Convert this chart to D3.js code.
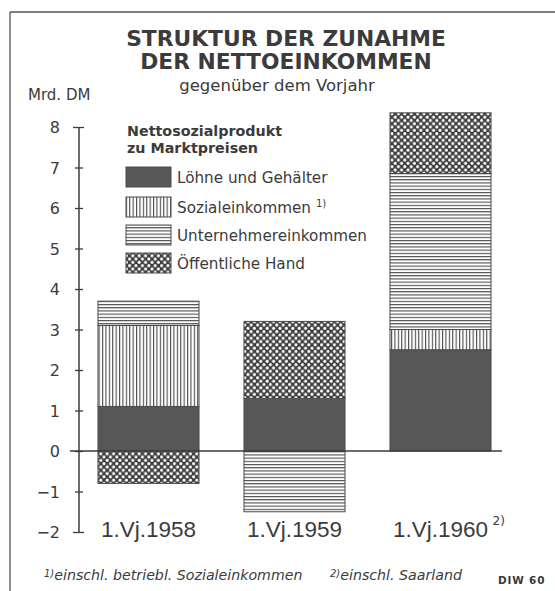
<!DOCTYPE html>
<html>
<head>
<meta charset="utf-8">
<script src="https://cdn.jsdelivr.net/npm/d3@7"></script>
<style>
  html, body { margin: 0; padding: 0; background: #fff; }
  svg { display: block; }
</style>
</head>
<body>
<div id="chart"></div>
<script>
// ---- data ----
const categories = ["1.Vj.1958", "1.Vj.1959", "1.Vj.1960"];
const categorySuperscripts = ["", "", "2)"];
const loehne = [1.1, 1.3, 2.5];          // Löhne und Gehälter
const sozial = [2.0, 0.0, 0.5];          // Sozialeinkommen 1)
const unternehmer = [0.6, -1.5, 3.85];   // Unternehmereinkommen
const oeffentlich = [-0.8, 1.9, 1.5];    // Öffentliche Hand
const seriesKeys = ["loehne", "sozial", "unternehmer", "oeffentlich"];
const seriesLabels = ["Löhne und Gehälter", "Sozialeinkommen", "Unternehmereinkommen", "Öffentliche Hand"];
const seriesLabelSup = ["", "1)", "", ""];
const yTicks = [-2, -1, 0, 1, 2, 3, 4, 5, 6, 7, 8];

const W = 555, H = 591;
const ink = "#3b3b3b";

const table = categories.map((c, i) => ({
  cat: c,
  loehne: loehne[i], sozial: sozial[i], unternehmer: unternehmer[i], oeffentlich: oeffentlich[i]
}));

const svg = d3.select("#chart").append("svg").attr("width", W).attr("height", H);

// ---- patterns ----
const defs = svg.append("defs");
const pv = defs.append("pattern").attr("id", "p-sozial").attr("patternUnits", "userSpaceOnUse")
  .attr("width", 3.4).attr("height", 10);
pv.append("rect").attr("width", 3.4).attr("height", 10).attr("fill", "#fff");
pv.append("rect").attr("x", 0).attr("width", 1.1).attr("height", 10).attr("fill", "#4a4a4a");

const ph = defs.append("pattern").attr("id", "p-unternehmer").attr("patternUnits", "userSpaceOnUse")
  .attr("width", 10).attr("height", 3.2);
ph.append("rect").attr("width", 10).attr("height", 3.2).attr("fill", "#fff");
ph.append("rect").attr("y", 0).attr("width", 10).attr("height", 1.1).attr("fill", "#4a4a4a");

const pd = defs.append("pattern").attr("id", "p-oeffentlich").attr("patternUnits", "userSpaceOnUse")
  .attr("width", 6.4).attr("height", 6.6);
pd.append("rect").attr("width", 6.4).attr("height", 6.6).attr("fill", "#3e3e3e");
pd.append("circle").attr("cx", 1.6).attr("cy", 1.65).attr("r", 1.55).attr("fill", "#fff");
pd.append("circle").attr("cx", 4.8).attr("cy", 4.95).attr("r", 1.55).attr("fill", "#fff");

const fills = {
  loehne: "#575757",
  sozial: "url(#p-sozial)",
  unternehmer: "url(#p-unternehmer)",
  oeffentlich: "url(#p-oeffentlich)"
};

// ---- frame ----
svg.append("line").attr("x1", 10).attr("x2", W).attr("y1", 12).attr("y2", 12)
  .attr("stroke", "#555").attr("stroke-width", 1.3);
svg.append("line").attr("x1", 10).attr("x2", 10).attr("y1", 12).attr("y2", H)
  .attr("stroke", "#555").attr("stroke-width", 1.3);

// ---- titles ----
svg.append("text").attr("x", 286).attr("y", 46).attr("text-anchor", "middle")
  .attr("font-family", "DejaVu Sans").attr("font-weight", "bold").attr("font-size", 21.8)
  .attr("fill", ink).text("STRUKTUR DER ZUNAHME");
svg.append("text").attr("x", 286).attr("y", 69).attr("text-anchor", "middle")
  .attr("font-family", "DejaVu Sans").attr("font-weight", "bold").attr("font-size", 21.8)
  .attr("fill", ink).text("DER NETTOEINKOMMEN");
svg.append("text").attr("x", 277).attr("y", 91).attr("text-anchor", "middle")
  .attr("font-family", "DejaVu Sans").attr("font-size", 16.5)
  .attr("fill", ink).text("gegenüber dem Vorjahr");
svg.append("text").attr("x", 28).attr("y", 100)
  .attr("font-family", "DejaVu Sans").attr("font-size", 15)
  .attr("fill", ink).text("Mrd. DM");

// ---- scales ----
const y = d3.scaleLinear().domain([-2, 8]).range([532, 127]);
const x = d3.scaleBand().domain(categories).range([75.5, 513.5])
  .paddingInner(0.308).paddingOuter(0.154);

// ---- axis ----
const axisX = 79;
const axis = d3.axisLeft(y).tickValues(yTicks).tickSize(0).tickPadding(0)
  .tickFormat(d => d < 0 ? "\u2212" + Math.abs(d) : String(d));
const gAxis = svg.append("g").attr("transform", `translate(${axisX},0)`).call(axis);
gAxis.select(".domain").remove();
gAxis.selectAll(".tick line")
  .attr("x1", d => (d === 8 || d === -2) ? -6 : -4)
  .attr("x2", d => (d === 8 || d === -2) ? 5 : 4)
  .attr("stroke", ink).attr("stroke-width", 1.3);
gAxis.selectAll(".tick text")
  .attr("x", -19).attr("dy", "0.36em")
  .attr("font-family", "DejaVu Sans").attr("font-size", 16)
  .attr("fill", ink).attr("text-anchor", "end");
svg.append("line").attr("x1", axisX).attr("x2", axisX).attr("y1", y(8)).attr("y2", y(-2))
  .attr("stroke", ink).attr("stroke-width", 1.5);

// ---- stacked bars ----
const stack = d3.stack().keys(seriesKeys).offset(d3.stackOffsetDiverging);
const stacked = stack(table);

const gBars = svg.append("g");
stacked.forEach(layer => {
  gBars.selectAll(null)
    .data(layer.filter(d => d[1] !== d[0]))
    .join("rect")
    .attr("x", d => x(d.data.cat))
    .attr("width", x.bandwidth())
    .attr("y", d => y(Math.max(d[0], d[1])))
    .attr("height", d => Math.abs(y(d[0]) - y(d[1])))
    .attr("fill", fills[layer.key])
    .attr("stroke", "#4a4a4a").attr("stroke-width", 1);
});

// ---- zero line ----
svg.append("line").attr("x1", 70).attr("x2", 502).attr("y1", y(0)).attr("y2", y(0))
  .attr("stroke", ink).attr("stroke-width", 1.3);

// ---- category labels ----
const gCat = svg.append("g");
categories.forEach((c, i) => {
  const cx = x(c) + x.bandwidth() / 2;
  gCat.append("text").attr("x", cx).attr("y", 537).attr("text-anchor", "middle")
    .attr("font-family", "Liberation Sans").attr("font-size", 22.5)
    .attr("fill", ink).text(c);
  if (categorySuperscripts[i]) {
    gCat.append("text").attr("x", cx + 52).attr("y", 525)
      .attr("font-family", "DejaVu Sans").attr("font-size", 12)
      .attr("fill", ink).text(categorySuperscripts[i]);
  }
});

// ---- legend ----
const gLeg = svg.append("g");
gLeg.append("text").attr("x", 127).attr("y", 136)
  .attr("font-family", "DejaVu Sans").attr("font-weight", "bold").attr("font-size", 14.3)
  .attr("fill", ink).text("Nettosozialprodukt");
gLeg.append("text").attr("x", 127).attr("y", 153)
  .attr("font-family", "DejaVu Sans").attr("font-weight", "bold").attr("font-size", 14.3)
  .attr("fill", ink).text("zu Marktpreisen");
const legTops = [167, 197, 225, 253];
seriesKeys.forEach((k, i) => {
  gLeg.append("rect").attr("x", 126).attr("y", legTops[i]).attr("width", 45).attr("height", 20)
    .attr("fill", fills[k]).attr("stroke", "#4a4a4a").attr("stroke-width", 1);
  const t = gLeg.append("text").attr("x", 177).attr("y", legTops[i] + 16)
    .attr("font-family", "DejaVu Sans").attr("font-size", 15.2)
    .attr("fill", ink).text(seriesLabels[i]);
  if (seriesLabelSup[i]) {
    t.append("tspan").attr("dx", 5).attr("dy", -6).attr("font-size", 10).text(seriesLabelSup[i]);
  }
});

// ---- footnotes ----
const f1 = svg.append("text").attr("x", 44).attr("y", 580)
  .attr("font-family", "DejaVu Sans").attr("font-style", "italic").attr("font-size", 14.2)
  .attr("fill", ink);
f1.append("tspan").attr("font-size", 10).attr("dy", -3).text("1)");
f1.append("tspan").attr("dy", 3).text("einschl. betriebl. Sozialeinkommen");
const f2 = svg.append("text").attr("x", 330).attr("y", 580)
  .attr("font-family", "DejaVu Sans").attr("font-style", "italic").attr("font-size", 14.2)
  .attr("fill", ink);
f2.append("tspan").attr("font-size", 10).attr("dy", -3).text("2)");
f2.append("tspan").attr("dy", 3).text("einschl. Saarland");
svg.append("text").attr("x", 498).attr("y", 584)
  .attr("font-family", "DejaVu Sans").attr("font-weight", "bold").attr("font-size", 10.5)
  .attr("letter-spacing", 0.8).attr("fill", ink).text("DIW 60");
</script>
</body>
</html>
